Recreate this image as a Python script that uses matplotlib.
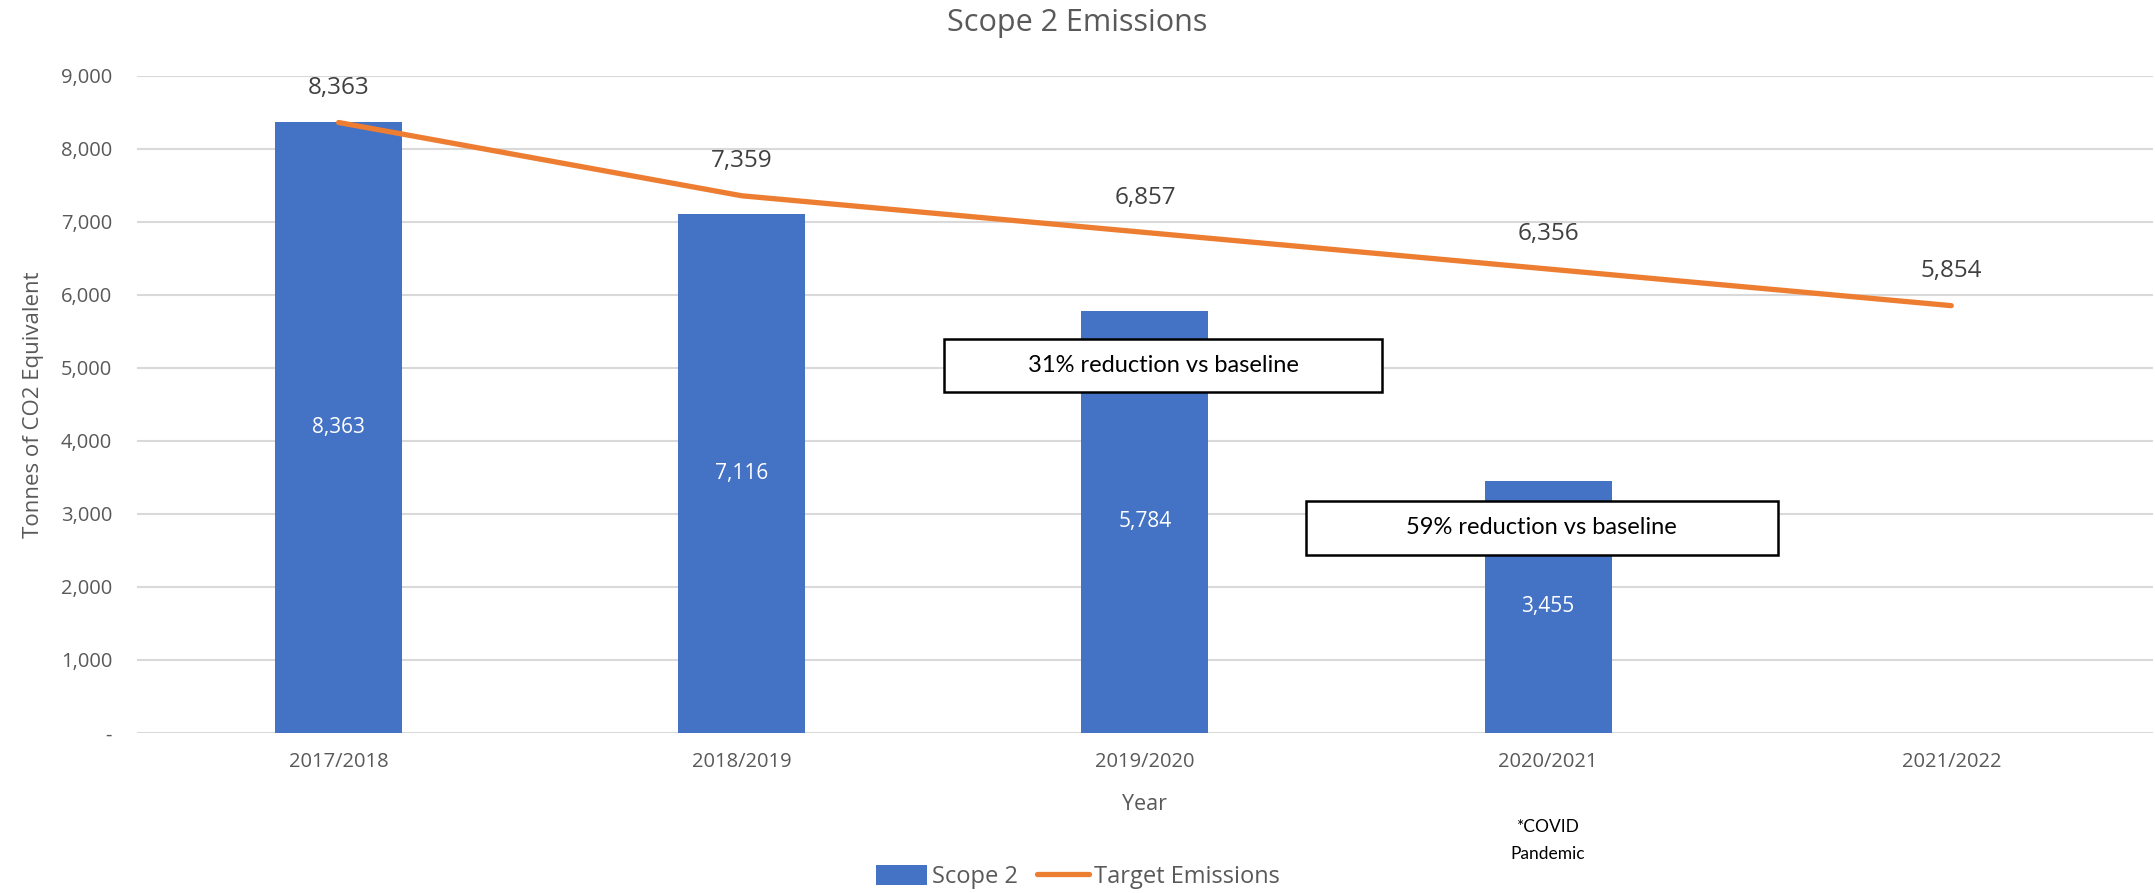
import numpy as np
import matplotlib.pyplot as plt
from matplotlib.patches import Rectangle

# datos
years = ["2017/2018", "2018/2019", "2019/2020", "2020/2021", "2021/2022"]
scope2 = [8363, 7116, 5784, 3455, np.nan]
target = [8363, 7359, 6857, 6356, 5854]

# cajas de texto: (x centro, y centro, ancho, alto, texto)
notes = [
    (2.045, 5034, 1.085, 726, "31% reduction vs baseline"),
    (2.984, 2808, 1.171, 740, "59% reduction vs baseline"),
]

blue = "#4472C4"
orange = "#ED7D31"
grey = "#595959"

plt.rcParams["font.family"] = ["Open Sans", "DejaVu Sans"]

fig = plt.figure(figsize=(21.55, 8.93), dpi=100)
ax = fig.add_axes([0.0636, 0.1792, 0.9354, 0.7357])

x = np.arange(len(years))
bars = ax.bar(x, scope2, width=0.315, color=blue, zorder=2, label="Scope 2")
line, = ax.plot(x, target, color=orange, lw=3.8, solid_capstyle="round", zorder=3,
                label="Target Emissions")

# etiquetas dentro de las barras
for xi, v in zip(x, scope2):
    if not np.isnan(v):
        ax.text(xi, v / 2, f"{v:,.0f}", ha="center", va="center",
                color="white", fontsize=15, zorder=4)

# etiquetas de la linea objetivo
for xi, v in zip(x, target):
    ax.annotate(f"{v:,.0f}", (xi, v), xytext=(0, 25), textcoords="offset points",
                ha="center", va="center", color="#404040", fontsize=17.5, zorder=4)

for cx, cy, w, h, txt in notes:
    ax.add_patch(Rectangle((cx - w / 2, cy - h / 2), w, h, facecolor="white",
                           edgecolor="black", lw=1.8, zorder=5))
    ax.text(cx, cy, txt, ha="center", va="center", fontsize=17,
            family=["Lato", "DejaVu Sans"], color="black", zorder=6)

ax.set_xlim(-0.5, 4.5)
ax.set_ylim(0, 9000)
ax.set_yticks(np.arange(0, 9001, 1000))
ax.set_yticklabels(["-"] + [f"{v:,}" for v in range(1000, 9001, 1000)])
ax.set_xticks(x)
ax.set_xticklabels(years)
ax.tick_params(length=0, colors=grey, labelsize=14.5)
ax.tick_params(axis="y", pad=18)
ax.tick_params(axis="x", pad=14)
ax.grid(axis="y", color="#D9D9D9", lw=1.5, zorder=0)
ax.set_axisbelow(True)
for s in ax.spines.values():
    s.set_visible(False)

ax.set_ylabel("Tonnes of CO2 Equivalent", color=grey, fontsize=16, labelpad=12)
fig.text(0.0636 + 0.9354 * 0.5, 1 - 804 / 893, "Year", ha="center", va="center",
         color=grey, fontsize=15.5)
fig.text(1548 / 2155, 1 - 827 / 893, "*COVID", ha="center", va="center",
         color="black", fontsize=12.5, family=["Lato", "DejaVu Sans"])
fig.text(1548 / 2155, 1 - 854 / 893, "Pandemic", ha="center", va="center",
         color="black", fontsize=12.5, family=["Lato", "DejaVu Sans"])

fig.suptitle("Scope 2 Emissions", y=1 - 23 / 893, va="center", color=grey,
             fontsize=22)

fig.legend(handles=[bars, line], loc="center", bbox_to_anchor=(0.5, 1 - 877 / 893),
           ncol=2, frameon=False, fontsize=17, labelcolor=grey, handlelength=2.2,
           handleheight=0.9, handletextpad=0.2, columnspacing=0.8)

fig.savefig("out.png", dpi=100)
